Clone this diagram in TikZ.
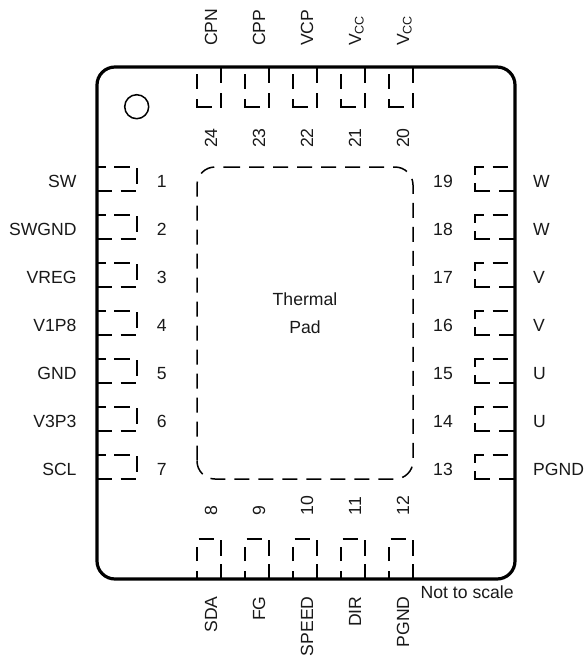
\documentclass[tikz,border=0pt]{standalone}
\usepackage{fontspec}
\setmainfont{Liberation Sans}
\tikzset{
  x=1pt,y=-1pt,
  pin/.style={line width=1.5pt,line cap=butt},
  tpad/.style={line width=1.5pt,dash pattern=on 15pt off 9pt,rounded corners=18pt},
  lbl/.style={inner sep=0pt,font=\fontsize{17.6}{20}\selectfont,text=black!90},
  toppad/.pic={
    \draw[pin] (0,7)--(0,22) (0,32)--(0,40)--(15,40) (24,0)--(24,16) (24,26)--(24,40.5);},
  botpad/.pic={
    \draw[pin] (0,40)--(0,31.5) (0,22)--(0,7.5) (1.5,0)--(16.5,0) (24,40)--(24,25) (24,16.5)--(24,1);},
  leftpad/.pic={
    \draw[pin] (0,0)--(8.5,0) (17,0)--(33,0) (40,1)--(40,17) (1,24)--(15,24) (23.5,24)--(38.5,24);},
  rightpad/.pic={
    \draw[pin] (8.5,0)--(0,0)--(0,7.5) (0,16)--(0,24)--(15,24) (24,24)--(40,24) (17.5,0)--(33,0);}
}
\begin{document}
\begin{tikzpicture}
\useasboundingbox (0,0) rectangle (585,656);
\draw[line width=3.2pt,rounded corners=18pt] (97,67) rectangle (515,579);
\node[circle,draw,line width=1.5pt,minimum size=24pt,inner sep=0pt] (dot) at (136.7,106.7) {};
\draw[tpad] (225,167)--(413,167)--(413,479)--(197,479)--(197,461);
\draw[tpad] (197,460.5)--(197,167)--(225,167);
\node[lbl,align=center] (thermal) at (305,299) {Thermal};
\node[lbl,align=center] (padtxt) at (305,327) {Pad};
\node[lbl,anchor=base west] (nts) at (420.5,598) {Not to scale};
% left pins
\foreach \y/\n/\t in {167/1/SW,215/2/SWGND,263/3/VREG,311/4/V1P8,359/5/GND,407/6/V3P3,455/7/SCL}{
  \pic at (97,\y) {leftpad};
  \node[lbl,anchor=base east] (ln\n) at (76.7,\y+20) {\t};
  \node[lbl,anchor=base] (lp\n) at (161.7,\y+20) {\n};
}
% right pins
\foreach \y/\n/\t in {167/19/W,215/18/W,263/17/V,311/16/V,359/15/U,407/14/U,455/13/PGND}{
  \pic at (475,\y) {rightpad};
  \node[lbl,anchor=base west] (rn\n) at (533,\y+20) {\t};
  \node[lbl,anchor=base] (rp\n) at (443,\y+20) {\n};
}
% top pins
\foreach \x/\n/\t in {197/24/CPN,245/23/CPP,293/22/VCP,341/21/{V\raisebox{-2.5pt}{\fontsize{12.5}{14}\selectfont CC}},389/20/{V\raisebox{-2.5pt}{\fontsize{12.5}{14}\selectfont CC}}}{
  \pic at (\x,67) {toppad};
  \node[lbl,rotate=90,anchor=base west] (tn\n) at (\x+20,46) {\t};
  \node[lbl,rotate=90,anchor=base west] (tp\n) at (\x+20,148) {\n};
}
% bottom pins
\foreach \x/\n/\t in {197/8/SDA,245/9/FG,293/10/SPEED,341/11/DIR,389/12/PGND}{
  \pic at (\x,539) {botpad};
  \node[lbl,rotate=90,anchor=base east] (bn\n) at (\x+20,596.2) {\t};
  \node[lbl,rotate=90,anchor=base west] (bp\n) at (\x+20,515.5) {\n};
}
\end{tikzpicture}
\end{document}
